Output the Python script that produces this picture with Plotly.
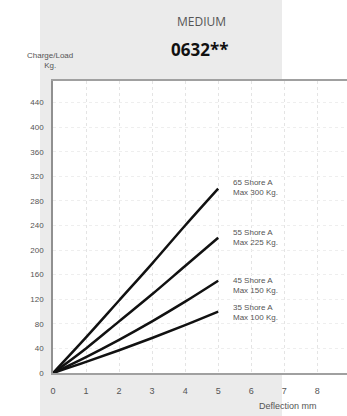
import plotly.graph_objects as go

deflection = [0, 1, 2, 3, 4, 5]
load_65 = [0, 58, 118, 178, 240, 300]
load_55 = [0, 40, 84, 128, 174, 220]
load_45 = [0, 26, 54, 84, 116, 150]
load_35 = [0, 18, 37, 57, 78, 100]
series_labels = ["65 Shore A<br>Max 300 Kg.", "55 Shore A<br>Max 225 Kg.",
                 "45 Shore A<br>Max 150 Kg.", "35 Shore A<br>Max 100 Kg."]
label_y = [302, 220, 143, 99]
x_ticks = [0, 1, 2, 3, 4, 5, 6, 7, 8]
y_ticks = [0, 40, 80, 120, 160, 200, 240, 280, 320, 360, 400, 440]

W, H = 347, 416
L, R, T, B = 53, 0, 81, 43
pw, ph = W - L - R, H - T - B

def px(xp):
    return (xp - L) / pw

def py(yp):
    return (H - B - yp) / ph

fig = go.Figure()
for ys in [load_65, load_55, load_45, load_35]:
    fig.add_trace(go.Scatter(x=deflection, y=ys, mode="lines",
                             line=dict(color="#111111", width=2.5, shape="spline"),
                             showlegend=False, hoverinfo="skip"))

font = "Liberation Sans, Arial, sans-serif"
for lab, yv in zip(series_labels, label_y):
    fig.add_annotation(x=5.4, y=yv, text=lab, showarrow=False, xanchor="left",
                       yanchor="middle", align="left",
                       font=dict(family=font, size=8, color="#555555"))

fig.update_layout(
    width=W, height=H, margin=dict(l=L, r=R, t=T, b=B),
    paper_bgcolor="white", plot_bgcolor="rgba(0,0,0,0)",
    shapes=[
        dict(type="rect", xref="paper", yref="paper", x0=px(40), x1=px(282),
             y0=py(416), y1=py(0), fillcolor="#ebebeb", line_width=0, layer="below"),
        dict(type="rect", xref="paper", yref="paper", x0=0, x1=1,
             y0=0, y1=1, fillcolor="white", line_width=0, layer="below"),
    ],
    xaxis=dict(range=[0, 8.9], tickvals=x_ticks, showgrid=True,
               gridcolor="#e4e4e4", griddash="dot", gridwidth=1,
               zeroline=False, showline=True, linecolor="#a0a0a0", linewidth=2,
               mirror=True, ticks="", ticklabelstandoff=8,
               tickfont=dict(family=font, size=9, color="#555555")),
    yaxis=dict(range=[0, 475], tickvals=y_ticks, showgrid=True,
               gridcolor="#eeeeee", griddash="dot", gridwidth=1,
               zeroline=False, showline=True, linecolor="#909090", linewidth=1.5,
               mirror=False, ticks="", ticklabelstandoff=6,
               tickfont=dict(family=font, size=8, color="#555555")),
)

fig.add_annotation(xref="paper", yref="paper", x=px(201), y=py(22), text="MEDIUM",
                   showarrow=False, xanchor="center", yanchor="middle",
                   font=dict(family="Open Sans, sans-serif", size=12, color="#555555"))
fig.add_annotation(xref="paper", yref="paper", x=px(199), y=py(50), text="<b>0632**</b>",
                   showarrow=False, xanchor="center", yanchor="middle",
                   font=dict(family="Open Sans, sans-serif", size=17, color="#111111"))
fig.add_annotation(xref="paper", yref="paper", x=px(50), y=py(60), text="Charge/Load<br>Kg.",
                   showarrow=False, xanchor="center", yanchor="middle", align="center",
                   font=dict(family=font, size=8, color="#555555"))
fig.add_annotation(xref="paper", yref="paper", x=px(257), y=py(406), text="Deflection mm",
                   showarrow=False, xanchor="left", yanchor="middle",
                   font=dict(family=font, size=9, color="#555555"))

fig.write_html("out.html", config={"displayModeBar": False},
               post_script="document.body.style.margin='0';document.body.style.overflow='hidden';")
